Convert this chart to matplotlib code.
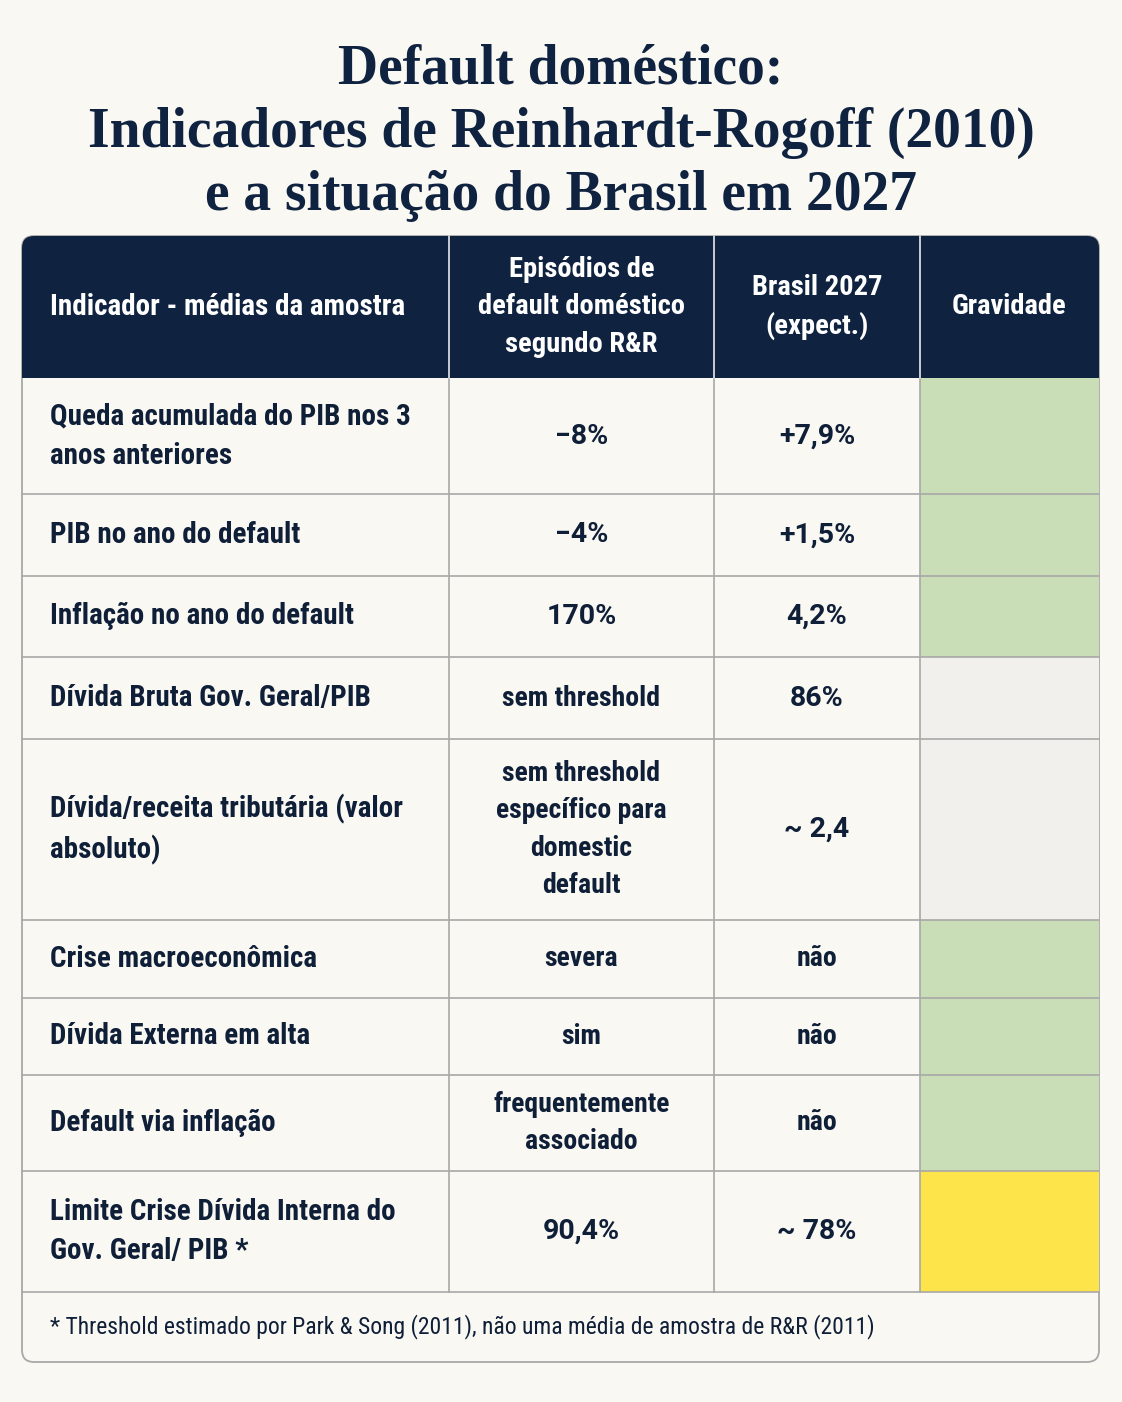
import numpy as np
import matplotlib
matplotlib.use('agg')
import matplotlib.pyplot as plt
from matplotlib.patches import Rectangle, FancyBboxPatch
from matplotlib import font_manager

# table content
title_lines = ['Default doméstico:',
               'Indicadores de Reinhardt-Rogoff (2010)',
               'e a situação do Brasil em 2027']
headers = ['Indicador - médias da amostra',
           'Episódios de\ndefault doméstico\nsegundo R&R',
           'Brasil 2027\n(expect.)',
           'Gravidade']
indicators = ['Queda acumulada do PIB nos 3\nanos anteriores',
              'PIB no ano do default',
              'Inflação no ano do default',
              'Dívida Bruta Gov. Geral/PIB',
              'Dívida/receita tributária (valor\nabsoluto)',
              'Crise macroeconômica',
              'Dívida Externa em alta',
              'Default via inflação',
              'Limite Crise Dívida Interna do\nGov. Geral/ PIB *']
rr_values = ['\u22128%', '\u22124%', '170%', 'sem threshold',
             'sem threshold\nespecífico para\ndomestic\ndefault',
             'severa', 'sim', 'frequentemente\nassociado', '90,4%']
brasil_values = ['+7,9%', '+1,5%', '4,2%', '86%', '~ 2,4',
                 'não', 'não', 'não', '~ 78%']
gravidade = ['baixa', 'baixa', 'baixa', 'n/a', 'n/a',
             'baixa', 'baixa', 'baixa', 'moderada']
footnote = '* Threshold estimado por Park & Song (2011), não uma média de amostra de R&R (2011)'

# layout (pixels)
W, H = 1122, 1402
bg = '#faf8f3'
navy = '#0f2340'
grav_colors = {'baixa': '#c9ddb6', 'n/a': '#f1f0ec', 'moderada': '#fde44b'}
grid = '#a8a8a8'
col_x = [22, 449, 714, 920, 1099]
row_y = [378, 494, 576, 657, 739, 920, 998, 1075, 1171, 1292]
head_top = 236
foot_bottom = 1362

avail = {f.name for f in font_manager.fontManager.ttflist}
cond_font = [f for f in ['Roboto Condensed', 'Liberation Sans Narrow', 'Roboto', 'DejaVu Sans'] if f in avail]
num_font = [f for f in ['Roboto', 'DejaVu Sans'] if f in avail]
title_font = [f for f in ['Liberation Serif', 'DejaVu Serif'] if f in avail]


def is_number(s):
    return s[0] in '0123456789+~\u2212'


fig = plt.figure(figsize=(W / 100, H / 100), dpi=100, facecolor=bg)
ax = fig.add_axes([0, 0, 1, 1])
ax.set_xlim(0, W)
ax.set_ylim(H, 0)
ax.axis('off')

# title
for i, line in enumerate(title_lines):
    ax.text(W / 2, 70 + i * 63, line, ha='center', va='center',
            fontsize=40, fontweight='bold', color=navy, family=title_font)

# outer frame with rounded corners
ax.add_patch(FancyBboxPatch((col_x[0], head_top), col_x[-1] - col_x[0],
                            foot_bottom - head_top,
                            boxstyle='round,pad=0,rounding_size=12',
                            fc=bg, ec=grid, lw=1.3, zorder=1))
# header background
ax.add_patch(FancyBboxPatch((col_x[0], head_top), col_x[-1] - col_x[0],
                            row_y[0] - head_top,
                            boxstyle='round,pad=0,rounding_size=12',
                            fc=navy, ec=navy, lw=0, zorder=2))
ax.add_patch(Rectangle((col_x[0], head_top + 20), col_x[-1] - col_x[0],
                       row_y[0] - head_top - 20, fc=navy, ec='none', zorder=2))

# severity column
for r, g in enumerate(gravidade):
    ax.add_patch(Rectangle((col_x[3], row_y[r]), col_x[4] - col_x[3],
                           row_y[r + 1] - row_y[r], fc=grav_colors[g],
                           ec='none', zorder=2))

# grid lines
for y in row_y[1:]:
    ax.plot([col_x[0], col_x[-1]], [y, y], color=grid, lw=1.2, zorder=3)
for x in col_x[1:-1]:
    ax.plot([x, x], [head_top, row_y[-1]], color=grid, lw=1.2, zorder=3)
    ax.plot([x, x], [head_top, row_y[0]], color='#d0d4da', lw=1.2, zorder=3)

ls = 1.5
text_col = '#0f1f38'

# header text
hy = (head_top + row_y[0]) / 2
ax.text(50, hy, headers[0], ha='left', va='center', fontsize=21,
        fontweight='semibold', color='white', family=cond_font, zorder=4,
        linespacing=ls)
for c in range(1, 4):
    ax.text((col_x[c] + col_x[c + 1]) / 2, hy, headers[c], ha='center',
            va='center', fontsize=20.5, fontweight='semibold', color='white',
            family=cond_font, zorder=4, linespacing=ls)


def cell(x, y, s, ha='center', size=20):
    if is_number(s):
        ax.text(x, y, s, ha=ha, va='center', fontsize=20.5, fontweight='bold',
                color=text_col, family=num_font, zorder=4)
    else:
        ax.text(x, y, s, ha=ha, va='center', fontsize=size,
                fontweight='semibold', color=text_col, family=cond_font,
                zorder=4, linespacing=ls)


# body text
for r in range(len(indicators)):
    cy = (row_y[r] + row_y[r + 1]) / 2
    cell(50, cy, indicators[r], ha='left', size=21)
    cell((col_x[1] + col_x[2]) / 2, cy, rr_values[r])
    cell((col_x[2] + col_x[3]) / 2, cy, brasil_values[r])

# footnote
ax.text(50, (row_y[-1] + foot_bottom) / 2, footnote, ha='left', va='center',
        fontsize=17, color=text_col, family=cond_font, zorder=4)

fig.savefig('out.png', dpi=100, facecolor=bg)
